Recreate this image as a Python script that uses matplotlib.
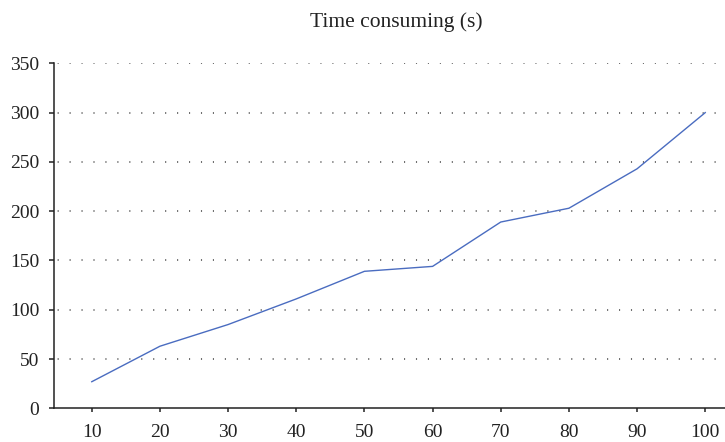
import matplotlib
matplotlib.use("Agg")
import matplotlib.pyplot as plt

x_values = [10, 20, 30, 40, 50, 60, 70, 80, 90, 100]
time_s = [27, 63, 85, 111, 139, 144, 189, 203, 243, 300]
y_ticks = [0, 50, 100, 150, 200, 250, 300, 350]
title = "Time consuming (s)"

plt.rcParams['font.family'] = ['Liberation Serif', 'DejaVu Serif']
plt.rcParams['lines.scale_dashes'] = False

fig = plt.figure(figsize=(7.25, 4.42), dpi=100)
ax = fig.add_axes([0.0745, 0.0762, 0.9255, 0.7805])

ax.plot(x_values, time_s, color='#4a6cc0', linewidth=1.0)

ax.set_xlim(4.46, 102.9)
ax.set_ylim(0, 350)
ax.set_xticks(x_values)
ax.set_yticks(y_ticks)

for y in y_ticks[1:]:
    ax.axhline(y, color='#444444', linewidth=1.1, linestyle=(6, (0.8, 7.8)), zorder=0)

for s in ['top', 'right']:
    ax.spines[s].set_visible(False)
for s in ['left', 'bottom']:
    ax.spines[s].set_linewidth(1.1)
    ax.spines[s].set_color('#222222')

ax.tick_params(axis='y', direction='out', length=3.6, width=1.1, pad=7, labelsize=14, colors='#222222')
ax.tick_params(axis='x', direction='out', length=3.0, width=1.1, pad=8, labelsize=14, colors='#222222')

ax.set_title(title, fontsize=15.5, color='#222222', pad=26, x=0.51)

fig.savefig("out.png", dpi=100)
